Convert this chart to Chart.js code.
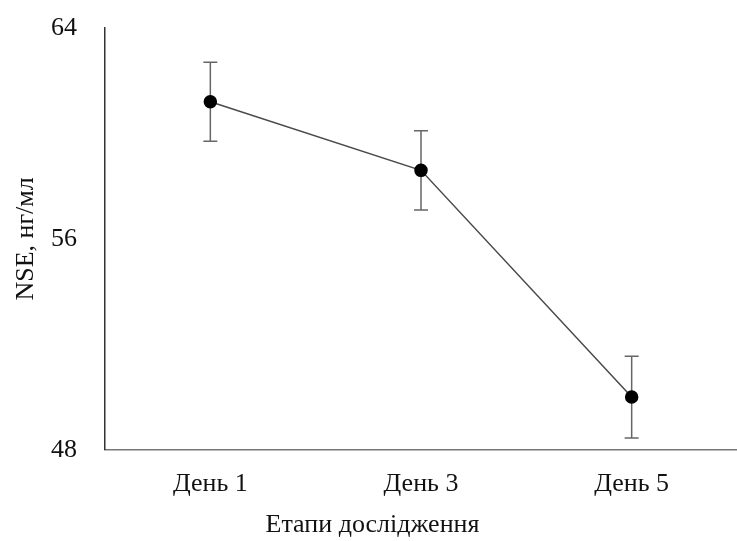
<!DOCTYPE html>
<html>
<head>
<meta charset="utf-8">
<script src="https://cdn.jsdelivr.net/npm/chart.js@4/dist/chart.umd.min.js"></script>
<style>
  html, body { margin: 0; padding: 0; background: #fff; overflow: hidden; }
  canvas { display: block; }
</style>
</head>
<body>
<canvas id="nseChart" width="737" height="541"></canvas>
<script>
const stages = ['День 1', 'День 3', 'День 5'];
const nseMean = [61.2, 58.6, 50.0];
const nseErr = [1.5, 1.5, 1.55];
const yTicks = [48, 56, 64];

const serif = '"Liberation Serif", "Times New Roman", serif';

// error bars drawn from the data through the y scale
const errorBars = {
    id: 'errorBars',
    beforeDatasetsDraw(chart) {
        const ctx = chart.ctx;
        const x = chart.scales.x, y = chart.scales.y;
        ctx.save();
        ctx.strokeStyle = '#666';
        ctx.lineWidth = 1.5;
        nseMean.forEach(function(v, i) {
            const px = x.getPixelForValue(i);
            const top = y.getPixelForValue(v + nseErr[i]);
            const bot = y.getPixelForValue(v - nseErr[i]);
            ctx.beginPath();
            ctx.moveTo(px, top); ctx.lineTo(px, bot);
            ctx.moveTo(px - 7, top); ctx.lineTo(px + 7, top);
            ctx.moveTo(px - 7, bot); ctx.lineTo(px + 7, bot);
            ctx.stroke();
        });
        ctx.restore();
    }
};

const ctx = document.getElementById('nseChart').getContext('2d');
const nseChart = new Chart(ctx, {
    type: 'line',
    data: {
        labels: stages,
        datasets: [{
            data: nseMean,
            borderColor: '#4a4a4a',
            borderWidth: 1.5,
            pointRadius: 6,
            pointBackgroundColor: '#000',
            pointBorderColor: '#000',
            tension: 0
        }]
    },
    plugins: [errorBars],
    options: {
        responsive: false,
        animation: false,
        layout: { autoPadding: false, padding: { top: 28, right: -8, left: 0, bottom: 0 } },
        plugins: {
            legend: { display: false },
            tooltip: { enabled: false },
            title: {
                display: true,
                position: 'bottom',
                text: 'Етапи дослідження',
                color: '#111',
                font: { family: serif, size: 26, weight: 'normal' },
                padding: 0
            }
        },
        scales: {
            x: {
                offset: true,
                grid: { display: false, drawTicks: false, offset: true },
                border: { color: '#777', width: 1.5 },
                ticks: { color: '#111', font: { family: serif, size: 26 }, padding: 19 },
                afterFit(scale) {
                    scale.height = 60;
                    scale.paddingLeft = 0;
                    scale.paddingRight = 0;
                }
            },
            y: {
                min: 48,
                max: 64,
                afterBuildTicks(scale) { scale.ticks = yTicks.map(v => ({ value: v })); },
                grid: { display: false, drawTicks: false },
                border: { color: '#333', width: 1.5 },
                ticks: { color: '#111', font: { family: serif, size: 26 }, padding: 28 },
                title: {
                    display: true,
                    text: 'NSE, нг/мл',
                    color: '#111',
                    font: { family: serif, size: 26 },
                    padding: { top: 11, bottom: 0 }
                },
                afterFit(scale) {
                    scale.width = 105;
                    scale.paddingTop = 0;
                    scale.paddingBottom = 0;
                }
            }
        }
    }
});
</script>
</body>
</html>
